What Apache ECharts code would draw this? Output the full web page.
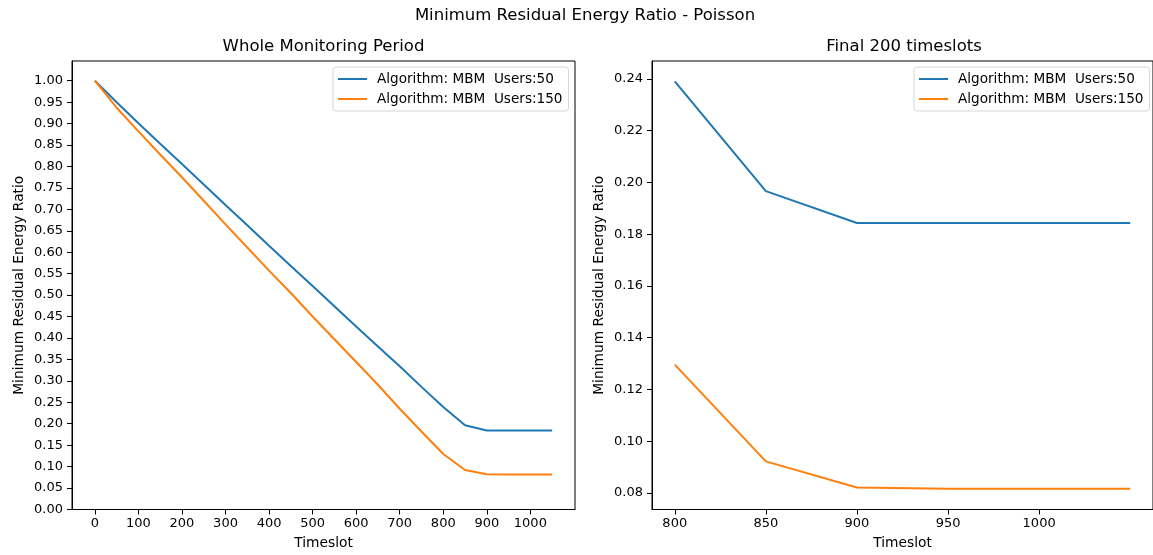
<!DOCTYPE html>
<html>
<head>
<meta charset="utf-8">
<script src="https://cdn.jsdelivr.net/npm/echarts@6/dist/echarts.min.js"></script>
<style>
  html, body { margin: 0; padding: 0; background: #fff; }
  #chart { width: 1153px; height: 555px; }
</style>
</head>
<body>
<div id="chart"></div>
<script>
// Minimum residual energy ratio over time, Poisson arrivals
const timeslots = [0, 50, 100, 150, 200, 250, 300, 350, 400, 450, 500, 550,
                   600, 650, 700, 750, 800, 850, 900, 950, 1000, 1050];
const users50 = [1.000, 0.950, 0.901, 0.853, 0.806, 0.758, 0.710, 0.663, 0.615, 0.568, 0.521, 0.474,
                 0.427, 0.380, 0.334, 0.286, 0.239, 0.1966, 0.1843, 0.1843, 0.1843, 0.1843];
const users150 = [1.000, 0.937, 0.882, 0.828, 0.775, 0.720, 0.665, 0.611, 0.557, 0.505, 0.450, 0.397,
                  0.344, 0.291, 0.235, 0.182, 0.1296, 0.0922, 0.0821, 0.0816, 0.0816, 0.0816];

const seriesNames = ['Algorithm: MBM  Users:50', 'Algorithm: MBM  Users:150'];
const finalWindowStart = 800;

const leftXTicks = [0, 100, 200, 300, 400, 500, 600, 700, 800, 900, 1000];
const leftYTicks = [0.00, 0.05, 0.10, 0.15, 0.20, 0.25, 0.30, 0.35, 0.40, 0.45, 0.50,
                    0.55, 0.60, 0.65, 0.70, 0.75, 0.80, 0.85, 0.90, 0.95, 1.00];
const rightXTicks = [800, 850, 900, 950, 1000];
const rightYTicks = [0.08, 0.10, 0.12, 0.14, 0.16, 0.18, 0.20, 0.22, 0.24];

const mainTitle = 'Minimum Residual Energy Ratio - Poisson';
const leftTitle = 'Whole Monitoring Period';
const rightTitle = 'Final 200 timeslots';
const xName = 'Timeslot';
const yName = 'Minimum Residual Energy Ratio';

const FONT = 'DejaVu Sans';
const COLORS = ['#1f77b4', '#ff7f0e'];

function pairs(xs, ys, fromX) {
  const out = [];
  for (let i = 0; i < xs.length; i++) {
    if (fromX === undefined || xs[i] >= fromX) out.push([xs[i], ys[i]]);
  }
  return out;
}

function valueAxis(gridIndex, min, max, ticks, fmt, isX) {
  return {
    type: 'value',
    gridIndex: gridIndex,
    min: min,
    max: max,
    name: isX ? xName : yName,
    nameLocation: 'middle',
    nameGap: isX ? 26.5 : 46,
    nameTextStyle: { fontFamily: FONT, fontSize: 13.8, color: '#000' },
    axisLine: { show: true, onZero: false, lineStyle: { color: '#000', width: 1 } },
    axisTick: { show: true, inside: false, length: 5, customValues: ticks,
                lineStyle: { color: '#000', width: 1 } },
    axisLabel: { show: true, customValues: ticks, margin: isX ? 8 : 9,
                 fontFamily: FONT, fontSize: 13, color: '#000',
                 formatter: fmt },
    splitLine: { show: false }
  };
}

function legendAt(left) {
  return {
    orient: 'vertical',
    left: left,
    top: 67,
    data: seriesNames,
    icon: 'rect',
    itemWidth: 29,
    itemHeight: 2,
    itemGap: 6,
    padding: [5, 6, 5, 5],
    borderColor: '#d6d6d6',
    borderWidth: 1,
    borderRadius: 3,
    backgroundColor: 'rgba(255,255,255,0.8)',
    selectedMode: false,
    textStyle: { fontFamily: FONT, fontSize: 13.6, color: '#000', padding: [0, 0, 0, 5] }
  };
}

function lineSeries(name, data, color, idx) {
  return {
    type: 'line',
    name: name,
    xAxisIndex: idx,
    yAxisIndex: idx,
    data: data,
    showSymbol: false,
    symbol: 'none',
    color: color,
    lineStyle: { color: color, width: 2 },
    emphasis: { disabled: true }
  };
}

const chart = echarts.init(document.getElementById('chart'), null, { renderer: 'canvas' });

const option = {
  animation: false,
  backgroundColor: '#fff',
  textStyle: { fontFamily: FONT },
  graphic: [
    { type: 'text', x: 585, y: 16, style: { text: mainTitle, fontFamily: FONT, fontSize: 16.5,
      fill: '#000', align: 'center', verticalAlign: 'middle' } },
    { type: 'text', x: 323.5, y: 46.5, style: { text: leftTitle, fontFamily: FONT, fontSize: 16.5,
      fill: '#000', align: 'center', verticalAlign: 'middle' } },
    { type: 'text', x: 904, y: 46.5, style: { text: rightTitle, fontFamily: FONT, fontSize: 16.5,
      fill: '#000', align: 'center', verticalAlign: 'middle' } }
  ],
  legend: [legendAt(333), legendAt(914)],
  grid: [
    { left: 72, top: 61, width: 503, height: 449, show: true, borderColor: '#000', borderWidth: 1,
      containLabel: false },
    { left: 652, top: 61, width: 504, height: 449, show: true, borderColor: '#000', borderWidth: 1,
      containLabel: false }
  ],
  xAxis: [
    valueAxis(0, -52.5, 1102.5, leftXTicks, v => String(v), true),
    valueAxis(1, 787.5, 1062.5, rightXTicks, v => String(v), true)
  ],
  yAxis: [
    valueAxis(0, 0, 1.046, leftYTicks, v => v.toFixed(2), false),
    valueAxis(1, 0.0736, 0.2469, rightYTicks, v => v.toFixed(2), false)
  ],
  series: [
    lineSeries(seriesNames[0], pairs(timeslots, users50), COLORS[0], 0),
    lineSeries(seriesNames[1], pairs(timeslots, users150), COLORS[1], 0),
    lineSeries(seriesNames[0], pairs(timeslots, users50, finalWindowStart), COLORS[0], 1),
    lineSeries(seriesNames[1], pairs(timeslots, users150, finalWindowStart), COLORS[1], 1)
  ]
};

chart.setOption(option);
</script>
</body>
</html>
